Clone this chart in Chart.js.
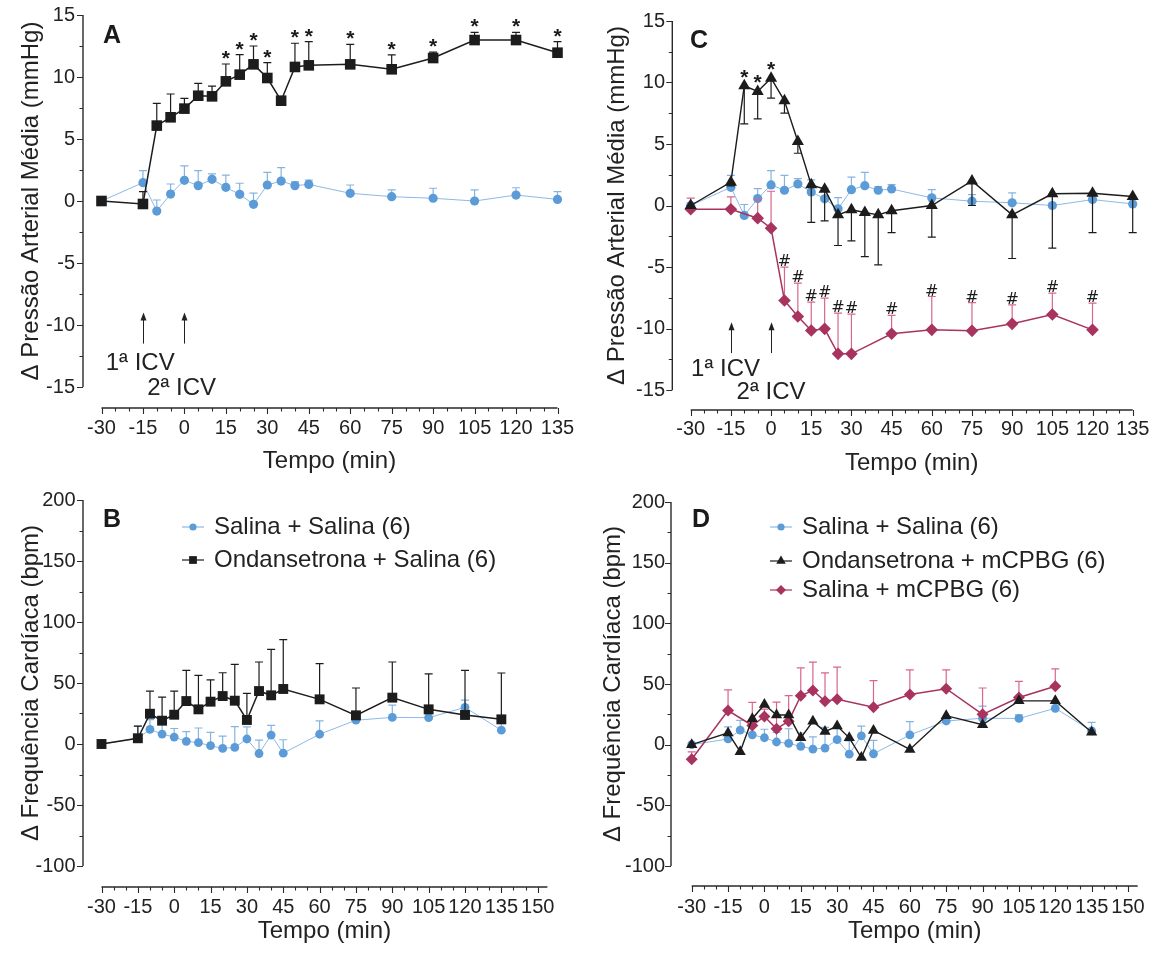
<!DOCTYPE html>
<html><head><meta charset="utf-8">
<script src="https://cdn.jsdelivr.net/npm/chart.js@4.4.1/dist/chart.umd.min.js"></script>
<style>
html,body{margin:0;padding:0;background:#fff;}
body{width:1173px;height:956px;position:relative;overflow:hidden;}
canvas{position:absolute;}
</style></head><body>
<canvas id="cA" width="586" height="478" style="left:0;top:0"></canvas>
<canvas id="cC" width="587" height="478" style="left:586px;top:0"></canvas>
<canvas id="cB" width="586" height="478" style="left:0;top:478px"></canvas>
<canvas id="cD" width="587" height="478" style="left:586px;top:478px"></canvas>
<script>
// ---------- DATA ----------
const tempo = [-30,-15,-10,-5,0,5,10,15,20,25,30,35,40,45,60,75,90,105,120,135];
const tempoMCPBG = [-30,-15,-5,0,5,10,15,20,25,30,45,60,75,90,105,120];

// Δ PAM (mmHg)
const pamSalSal   = [0,1.48,-0.81,0.56,1.67,1.24,1.75,1.10,0.54,-0.27,1.29,1.61,1.24,1.34,0.62,0.35,0.22,0,0.48,0.13];
const pamSalSalEP = [0,0.97,0.89,0.81,1.16,1.21,0.43,0.99,0.89,0.91,1.02,1.08,0.3,0.35,0.67,0.54,0.81,0.89,0.59,0.62];
const pamOndSal   = [0,-0.24,6.08,6.75,7.45,8.49,8.44,9.65,10.19,11.02,9.92,8.09,10.81,10.94,11.02,10.62,11.53,12.98,12.98,11.96];
const pamOndSalEP = [0,1.0,1.8,1.88,0.83,1.0,0.83,1.4,1.61,1.48,1.24,0,1.91,1.91,1.61,1.16,0.48,0.62,0.62,0.89];
const pamOndMcpbg   = [0,1.9,9.73,9.27,10.35,8.51,5.2,1.68,1.33,-0.76,-0.35,-0.57,-0.76,-0.43,0,2.0,-0.76,0.95,1.0,0.73];
const pamOndMcpbgEP = [0,0.3,3.09,2.22,1.62,1.0,0.95,3.06,2.58,2.49,2.52,3.58,4.06,1.77,2.57,2.0,3.55,4.42,3.2,2.93];
const pamSalMcpbg   = [-0.3,-0.3,-1.03,-1.84,-7.72,-9.02,-10.16,-10.03,-12.06,-12.06,-10.43,-10.11,-10.19,-9.62,-8.86,-10.11];
const pamSalMcpbgEP = [0.9,1.0,1.5,3.0,2.71,2.71,2.3,2.5,3.31,3.23,1.49,2.71,2.3,1.54,1.73,2.17];

// Δ FC (bpm)
const fcSalSal   = [0,4.7,12,8.1,5.7,2.2,1.1,-1.4,-3.6,-2.8,4.1,-7.8,7.3,-7.5,8,19.5,21.8,21.6,30,11.3];
const fcSalSalEP = [0,10,8,8,7,8,12,11,10,17,10,11,8,11,11,3,10,3,6,7];
const fcOndSal   = [0,4.7,24.8,19.1,24,35.2,28.4,34.7,39.3,35.5,19.7,43.4,39.9,45.1,36.6,23.5,38,28.4,23.8,20.2];
const fcOndSalEP = [0,10,18.6,19.4,19.4,25.2,27.9,17.8,19.1,29.8,21.8,23.8,37.7,40.4,29.2,22.4,29.2,29,36.6,38];
const fcOndMcpbg = [0,9.7,-5.8,21.4,33.1,24.4,24.4,5.6,19.2,10.8,15.3,5.6,-10.6,11.7,-3.9,23.9,16.4,36.1,36.1,10.3];
const fcSalMcpbg   = [-12,28.1,15.8,23.3,13.1,19.4,40.3,44.7,35.8,37.5,30.8,41.4,46.1,25,38.9,48.1];
const fcSalMcpbgEP = [6,17,19,6,22,21,23,23.3,23.4,26.4,22,20.3,15.6,21.7,13.3,14.4];

// significance
const starsA = [15,20,25,30,40,45,60,75,90,105,120,135];
const starsC = [-10,-5,0];
const hashC  = [5,10,15,20,25,30,45,60,75,90,105,120];

// ticks
const ticksPAM = [-15,-10,-5,0,5,10,15];
const ticksFC  = [-100,-50,0,50,100,150,200];
const ticksTempoPAM = [-30,-15,0,15,30,45,60,75,90,105,120,135];
const ticksTempoFC  = [-30,-15,0,15,30,45,60,75,90,105,120,135,150];

// labels
const lblSalSal = 'Salina + Salina (6)';
const lblOndSal = 'Ondansetrona + Salina (6)';
const lblOndMcpbg = 'Ondansetrona + mCPBG (6)';
const lblSalMcpbg = 'Salina + mCPBG (6)';

// ---------- STYLE ----------
const fam = "'Liberation Sans', Arial, Helvetica, sans-serif";
Chart.defaults.font.family = fam;
Chart.defaults.color = '#222';
const BLUE = '#5b9bd8', BLUE_LINE = '#8cb9e6', BLUE_ERR = '#86b4e2';
const BLACK = '#1c1c1c', RED = '#a8335f', RED_ERR = '#d8668e';

function ds(label, xs, ys, st, extra) {
  return Object.assign({label, data: xs.map((x, i) => ({x, y: ys[i]})), clip: false, tension: 0, fill: false}, st, extra || {});
}
const stBlue = {borderColor: BLUE_LINE, borderWidth: 1, pointStyle: 'circle', pointRadius: 4.6, pointBackgroundColor: BLUE, pointBorderColor: BLUE, pointBorderWidth: 0, errColor: BLUE_ERR, order: 3};
const stSquare = {borderColor: BLACK, borderWidth: 1.5, pointStyle: 'rect', pointRadius: 7.5, pointBackgroundColor: BLACK, pointBorderColor: BLACK, pointBorderWidth: 0, errColor: BLACK, order: 1};
const stTri = {borderColor: BLACK, borderWidth: 1.4, pointStyle: 'triangle', pointRadius: 7, pointBackgroundColor: BLACK, pointBorderColor: BLACK, pointBorderWidth: 0, errColor: BLACK, order: 1};
const stDiam = {borderColor: RED, borderWidth: 1.5, pointStyle: 'rectRot', pointRadius: 6.3, pointBackgroundColor: RED, pointBorderColor: RED, pointBorderWidth: 0, errColor: RED_ERR, order: 2};

const panelCfg = {};

const prism = {
  id: 'prism',
  beforeDatasetDraw(chart, args) {
    const d = chart.data.datasets[args.index];
    if (!d.errors) return;
    const ctx = chart.ctx, xs = chart.scales.x, ys = chart.scales.y;
    ctx.save();
    ctx.strokeStyle = d.errColor; ctx.lineWidth = 1.2;
    d.data.forEach((p, i) => {
      const e = d.errors[i]; if (!e) return;
      const px = xs.getPixelForValue(p.x), py = ys.getPixelForValue(p.y);
      const pe = ys.getPixelForValue(p.y + (d.errDown ? -e : e));
      ctx.beginPath(); ctx.moveTo(px, py); ctx.lineTo(px, pe);
      ctx.moveTo(px - 4, pe); ctx.lineTo(px + 4, pe); ctx.stroke();
    });
    ctx.restore();
  },
  afterDraw(chart) {
    const c = panelCfg[chart.canvas.id];
    const ctx = chart.ctx, xs = chart.scales.x, ys = chart.scales.y, ca = chart.chartArea;
    ctx.save();
    // axes (Prism style, detached)
    ctx.strokeStyle = '#2a2a2a'; ctx.lineWidth = 1.4;
    const ax = ca.left - c.yGap, ay = ca.bottom + c.xGap;
    ctx.beginPath();
    ctx.moveTo(ax, ys.getPixelForValue(c.yMax)); ctx.lineTo(ax, ys.getPixelForValue(c.yMin));
    ctx.moveTo(xs.getPixelForValue(c.xMin), ay); ctx.lineTo(xs.getPixelForValue(c.xMax), ay);
    ctx.stroke();
    ctx.lineWidth = 1.1;
    ctx.beginPath();
    for (let v = c.yMin; v <= c.yMax + 1e-6; v += c.yMinor) {
      const py = Math.round(ys.getPixelForValue(v)) + 0.5;
      const L = c.yTicks.some(t => Math.abs(t - v) < 1e-6) ? 6 : 3.5;
      ctx.moveTo(ax, py); ctx.lineTo(ax - L, py);
    }
    for (let v = c.xMin; v <= c.xMax + 1e-6; v += c.xMinor) {
      const px = Math.round(xs.getPixelForValue(v)) + 0.5;
      const L = c.xTicks.some(t => Math.abs(t - v) < 1e-6) ? 6 : 3.5;
      ctx.moveTo(px, ay); ctx.lineTo(px, ay + L);
    }
    ctx.stroke();

    // panel letter
    ctx.fillStyle = '#1a1a1a';
    ctx.font = 'bold 25px ' + fam; ctx.textAlign = 'left'; ctx.textBaseline = 'alphabetic';
    ctx.fillText(c.letter.t, c.letter.x, c.letter.y);

    // significance marks
    (c.marks || []).forEach(m => {
      const d = chart.data.datasets[m.ds];
      ctx.font = m.font; ctx.textAlign = 'center'; ctx.textBaseline = 'alphabetic'; ctx.fillStyle = '#1a1a1a';
      m.times.forEach(t => {
        const i = d.data.findIndex(p => p.x === t); if (i < 0) return;
        const p = d.data[i];
        const v = m.ref === 'cap' ? p.y + (d.errors ? d.errors[i] : 0) : p.y;
        ctx.fillText(m.text, xs.getPixelForValue(t), ys.getPixelForValue(v) + m.dy);
      });
    });

    // injection arrows + labels
    (c.arrows || []).forEach(a => {
      const px = Math.round(xs.getPixelForValue(a.x)) + 0.5;
      const p0 = ys.getPixelForValue(a.y0), p1 = ys.getPixelForValue(a.y1);
      ctx.strokeStyle = '#222'; ctx.lineWidth = 1;
      ctx.beginPath(); ctx.moveTo(px, p0); ctx.lineTo(px, p1 + 6); ctx.stroke();
      ctx.fillStyle = '#222';
      ctx.beginPath(); ctx.moveTo(px, p1); ctx.lineTo(px - 3, p1 + 8); ctx.lineTo(px + 3, p1 + 8); ctx.closePath(); ctx.fill();
    });
    (c.notes || []).forEach(n => {
      ctx.fillStyle = '#222'; ctx.font = '24px ' + fam; ctx.textAlign = 'center'; ctx.textBaseline = 'middle';
      ctx.fillText(n.text, xs.getPixelForValue(n.x), ys.getPixelForValue(n.y));
    });

    // legend
    (c.legend || []).forEach(l => {
      const d = chart.data.datasets[l.ds];
      ctx.strokeStyle = d.borderColor; ctx.lineWidth = 1.2;
      ctx.beginPath(); ctx.moveTo(c.legX - 11, l.y); ctx.lineTo(c.legX + 11, l.y); ctx.stroke();
      ctx.fillStyle = d.pointBackgroundColor;
      Chart.helpers.drawPoint(ctx, {pointStyle: d.pointStyle, radius: l.r, rotation: 0, borderWidth: 0}, c.legX, l.y);
      ctx.fillStyle = '#222'; ctx.font = '24px ' + fam; ctx.textAlign = 'left'; ctx.textBaseline = 'middle';
      ctx.fillText(d.label, c.legX + 21, l.y);
    });
    ctx.restore();
  }
};

function makePanel(id, c) {
  panelCfg[id] = c;
  new Chart(document.getElementById(id), {
    type: 'line',
    data: {datasets: c.datasets},
    options: {
      responsive: false, animation: false, events: [],
      layout: {padding: c.pad},
      plugins: {legend: {display: false}, tooltip: {enabled: false}},
      scales: {
        x: {type: 'linear', min: c.xMin, max: c.xMax,
          grid: {display: false, drawTicks: false}, border: {display: false},
          afterBuildTicks: s => { s.ticks = c.xTicks.map(v => ({value: v})); },
          afterFit: s => { s.height = c.xH; s.paddingLeft = 0; s.paddingRight = 0; s.paddingTop = 0; s.paddingBottom = 0; },
          ticks: {autoSkip: false, maxRotation: 0, minRotation: 0, padding: c.xTickPad, color: '#222', font: {size: 20}},
          title: {display: true, text: 'Tempo (min)', color: '#222', font: {size: 24}, padding: {top: 0, bottom: c.xTitlePad}}
        },
        y: {type: 'linear', min: c.yMin, max: c.yMax,
          grid: {display: false, drawTicks: false}, border: {display: false},
          afterBuildTicks: s => { s.ticks = c.yTicks.map(v => ({value: v})); },
          afterFit: s => { s.width = c.yW; s.paddingTop = 0; s.paddingBottom = 0; s.paddingLeft = 0; s.paddingRight = 0; },
          ticks: {padding: c.yTickPad, color: '#222', font: {size: 20}},
          title: {display: true, text: c.yTitle, color: '#222', font: {size: 24}, padding: {top: c.yTitlePad, bottom: 0}}
        }
      }
    },
    plugins: [prism]
  });
}

const titlePAM = 'Δ Pressão Arterial Média (mmHg)';
const titleFC = 'Δ Frequência Cardíaca (bpm)';

// Panel A
makePanel('cA', {
  datasets: [
    ds(lblOndSal, tempo, pamOndSal, stSquare, {errors: pamOndSalEP}),
    ds(lblSalSal, tempo, pamSalSal, stBlue, {errors: pamSalSalEP})
  ],
  xMin: -30, xMax: 135, xTicks: ticksTempoPAM, xMinor: 5,
  yMin: -15, yMax: 15, yTicks: ticksPAM, yMinor: 2.5, yTitle: titlePAM,
  pad: {left: 0, top: 15, right: 28.5, bottom: 0},
  yW: 101.5, xH: 91, yTickPad: 26.5, yTitlePad: 16.6, xTickPad: 29, xTitlePad: 2.6,
  yGap: 18.5, xGap: 21,
  letter: {t: 'A', x: 103, y: 43},
  marks: [{ds: 0, times: starsA, text: '*', font: 'bold 21px ' + fam, ref: 'cap', dy: 1}],
  arrows: [{x: -15, y0: -11.5, y1: -9.0}, {x: 0, y0: -11.5, y1: -9.0}],
  notes: [{x: -16, y: -13.06, text: '1ª ICV'}, {x: -1, y: -15.08, text: '2ª ICV'}]
});

// Panel C
makePanel('cC', {
  datasets: [
    ds(lblOndMcpbg, tempo, pamOndMcpbg, stTri, {errors: pamOndMcpbgEP, errDown: true}),
    ds(lblSalMcpbg, tempoMCPBG, pamSalMcpbg, stDiam, {errors: pamSalMcpbgEP}),
    ds(lblSalSal, tempo, pamSalSal, stBlue, {errors: pamSalSalEP})
  ],
  xMin: -30, xMax: 135, xTicks: ticksTempoPAM, xMinor: 5,
  yMin: -15, yMax: 15, yTicks: ticksPAM, yMinor: 2.5, yTitle: titlePAM,
  pad: {left: 0, top: 21, right: 40.3, bottom: 0},
  yW: 104.7, xH: 88, yTickPad: 25.7, yTitlePad: 16.6, xTickPad: 27, xTitlePad: 0.6,
  yGap: 18.4, xGap: 20,
  letter: {t: 'C', x: 104, y: 48},
  marks: [
    {ds: 0, times: starsC, text: '*', font: 'bold 21px ' + fam, ref: 'point', dy: -2},
    {ds: 1, times: hashC, text: '#', font: '16px "DejaVu Sans"', ref: 'cap', dy: -1}
  ],
  arrows: [{x: -15, y0: -12.0, y1: -9.5}, {x: 0, y0: -12.0, y1: -9.5}],
  notes: [{x: -17, y: -13.36, text: '1ª ICV'}, {x: 0, y: -15.2, text: '2ª ICV'}]
});

// Panel B
makePanel('cB', {
  datasets: [
    ds(lblOndSal, tempo, fcOndSal, stSquare, {errors: fcOndSalEP, pointRadius: 7}),
    ds(lblSalSal, tempo, fcSalSal, stBlue, {errors: fcSalSalEP, pointRadius: 4.4})
  ],
  xMin: -30, xMax: 154, xTicks: ticksTempoFC, xMinor: 5,
  yMin: -100, yMax: 200, yTicks: ticksFC, yMinor: 25, yTitle: titleFC,
  pad: {left: 0, top: 22, right: 38.6, bottom: 0},
  yW: 101.5, xH: 90, yTickPad: 26, yTitlePad: 16.6, xTickPad: 29, xTitlePad: 10.6,
  yGap: 18.5, xGap: 21,
  letter: {t: 'B', x: 103, y: 49},
  legX: 193,
  legend: [{ds: 1, y: 49, r: 3.6}, {ds: 0, y: 82, r: 5.5}]
});

// Panel D
makePanel('cD', {
  datasets: [
    ds(lblOndMcpbg, tempo, fcOndMcpbg, stTri, {pointRadius: 6.5}),
    ds(lblSalMcpbg, tempoMCPBG, fcSalMcpbg, stDiam, {errors: fcSalMcpbgEP, pointRadius: 6}),
    ds(lblSalSal, tempo, fcSalSal, stBlue, {errors: fcSalSalEP, pointRadius: 4.4})
  ],
  xMin: -30, xMax: 154, xTicks: ticksTempoFC, xMinor: 5,
  yMin: -100, yMax: 200, yTicks: ticksFC, yMinor: 25, yTitle: titleFC,
  pad: {left: 0, top: 24, right: 35.3, bottom: 0},
  yW: 105.7, xH: 90, yTickPad: 26.7, yTitlePad: 12.6, xTickPad: 29, xTitlePad: 10.6,
  yGap: 20.7, xGap: 20,
  letter: {t: 'D', x: 106, y: 49},
  legX: 195,
  legend: [{ds: 2, y: 49, r: 3.6}, {ds: 0, y: 83, r: 5.5}, {ds: 1, y: 112, r: 5}]
});
</script>
</body></html>
